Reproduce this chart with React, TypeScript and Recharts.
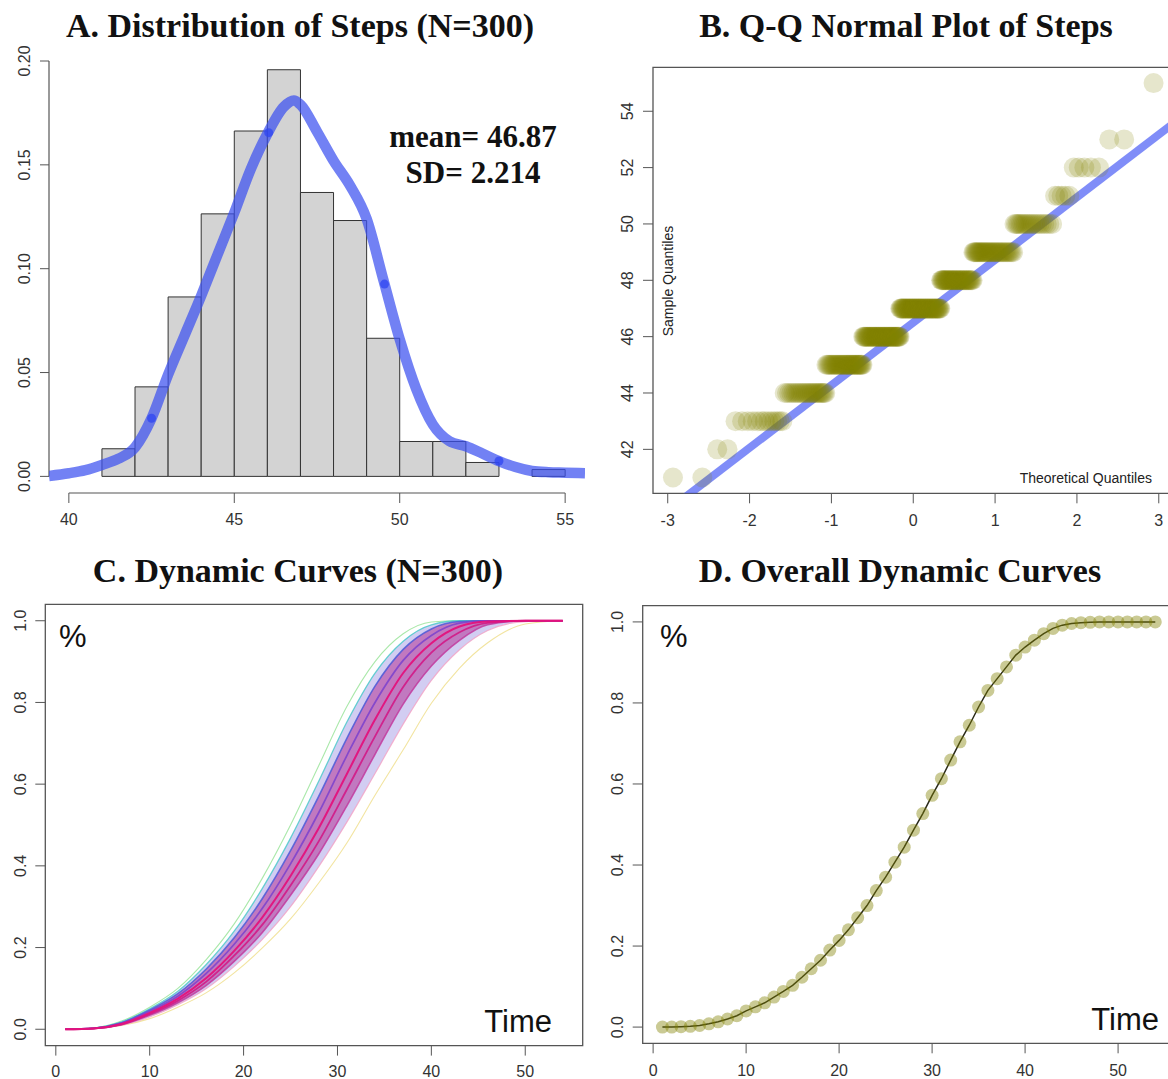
import React from "react";
import { ComposedChart, XAxis, YAxis, Line, Scatter, Area, ReferenceArea, ReferenceLine } from "recharts";

// ---------- Panel A: histogram + density ----------
const histBreaks = [41, 42, 43, 44, 45, 46, 47, 48, 49, 50, 51, 52, 53, 54, 55];
const histDensity = [0.0133, 0.0431, 0.0864, 0.1264, 0.1663, 0.1958, 0.1367, 0.1232, 0.0665, 0.0168, 0.0168, 0.0067, 0, 0.0033];
const densityX = [39.4, 40, 40.5, 41, 41.5, 42, 42.5, 43, 43.5, 44, 44.5, 45, 45.5, 46, 46.5, 46.8, 47, 47.5, 48, 48.5, 49, 49.5, 50, 50.5, 51, 51.5, 52, 52.5, 53, 53.5, 54, 54.5, 55, 55.6];
const densityY = [0.0002, 0.0015, 0.003, 0.0055, 0.0085, 0.014, 0.028, 0.049, 0.068, 0.087, 0.107, 0.127, 0.148, 0.165, 0.178, 0.181, 0.179, 0.166, 0.152, 0.14, 0.124, 0.095, 0.066, 0.042, 0.025, 0.017, 0.0145, 0.011, 0.0074, 0.0045, 0.0026, 0.002, 0.0018, 0.0015];
const densityMarkX = [42.5, 46.04, 49.54, 53.0];
const densityMarkY = [0.028, 0.1655, 0.0926, 0.0074];
const meanText = "mean= 46.87";
const sdText = "SD= 2.214";

// ---------- Panel B: sample values & counts ----------
const stepValues = [41, 42, 43, 44, 45, 46, 47, 48, 49, 50, 51, 52, 53, 54, 55];
const stepCounts = [2, 2, 13, 26, 38, 50, 59, 41, 37, 20, 5, 5, 2, 0, 1];

// ---------- Panel C: individual curves (read at these times) ----------
const curveT = [1, 4, 7, 10, 13, 16, 19, 22, 25, 28, 31, 34, 37, 40, 43, 46, 50, 54];
const curveA = [0, 0.003, 0.02, 0.054, 0.1, 0.17, 0.258, 0.37, 0.5, 0.645, 0.79, 0.9, 0.968, 0.997, 1, 1, 1, 1];
const curveB = [0, 0.003, 0.018, 0.05, 0.093, 0.158, 0.24, 0.345, 0.468, 0.607, 0.752, 0.872, 0.95, 0.99, 1, 1, 1, 1];
const curveC = [0, 0.0026, 0.016, 0.047, 0.087, 0.147, 0.224, 0.32, 0.437, 0.57, 0.712, 0.84, 0.93, 0.98, 0.998, 1, 1, 1];
const curveD = [0, 0.0022, 0.015, 0.044, 0.081, 0.136, 0.208, 0.296, 0.405, 0.53, 0.67, 0.8, 0.903, 0.964, 0.994, 1, 1, 1];
const curveE = [0, 0.002, 0.013, 0.04, 0.075, 0.125, 0.192, 0.274, 0.375, 0.492, 0.625, 0.758, 0.872, 0.945, 0.986, 0.998, 1, 1];
const curveF = [0, 0.0019, 0.012, 0.037, 0.07, 0.116, 0.18, 0.256, 0.352, 0.46, 0.587, 0.717, 0.838, 0.922, 0.972, 0.995, 1, 1];
const curveG = [0, 0.0018, 0.011, 0.034, 0.065, 0.107, 0.166, 0.237, 0.328, 0.429, 0.547, 0.673, 0.796, 0.889, 0.952, 0.99, 1, 1];
const curveH = [0, 0.0017, 0.01, 0.03, 0.06, 0.099, 0.154, 0.22, 0.3, 0.398, 0.507, 0.626, 0.747, 0.854, 0.929, 0.976, 0.998, 1];
const curveI = [0, 0.0015, 0.009, 0.026, 0.054, 0.089, 0.138, 0.199, 0.27, 0.358, 0.456, 0.573, 0.684, 0.798, 0.884, 0.946, 0.992, 1];

// ---------- Panel D: overall curve ----------
const timePoints = [1, 2, 3, 4, 5, 6, 7, 8, 9, 10, 11, 12, 13, 14, 15, 16, 17, 18, 19, 20, 21, 22, 23, 24, 25, 26, 27, 28, 29, 30, 31, 32, 33, 34, 35, 36, 37, 38, 39, 40, 41, 42, 43, 44, 45, 46, 47, 48, 49, 50, 51, 52, 53, 54];
const overallCurve = [0, 0, 0.001, 0.002, 0.004, 0.008, 0.013, 0.02, 0.028, 0.04, 0.05, 0.06, 0.074, 0.088, 0.103, 0.123, 0.144, 0.165, 0.19, 0.214, 0.24, 0.27, 0.3, 0.337, 0.37, 0.407, 0.444, 0.486, 0.527, 0.572, 0.613, 0.659, 0.704, 0.745, 0.79, 0.831, 0.86, 0.889, 0.918, 0.938, 0.955, 0.971, 0.984, 0.992, 0.996, 0.998, 0.999, 1, 1, 1, 1, 1, 1, 1];

const yTicksCD = [0, 0.2, 0.4, 0.6, 0.8, 1.0];
const xTicksCD = [0, 10, 20, 30, 40, 50];

// ---------- helpers ----------
function qnorm(p: number): number {
  const a = [-39.69683028665376, 220.9460984245205, -275.9285104469687, 138.357751867269, -30.66479806614716, 2.506628277459239];
  const b = [-54.47609879822406, 161.5858368580409, -155.6989798598866, 66.80131188771972, -13.28068155288572];
  const c = [-0.007784894002430293, -0.3223964580411365, -2.400758277161838, -2.549732539343734, 4.374664141464968, 2.938163982698783];
  const d = [0.007784695709041462, 0.3224671290700398, 2.445134137142996, 3.754408661907416];
  const pl = 0.02425;
  if (p < pl) {
    const q = Math.sqrt(-2 * Math.log(p));
    return (((((c[0] * q + c[1]) * q + c[2]) * q + c[3]) * q + c[4]) * q + c[5]) / ((((d[0] * q + d[1]) * q + d[2]) * q + d[3]) * q + 1);
  }
  if (p <= 1 - pl) {
    const q = p - 0.5;
    const r = q * q;
    return ((((((a[0] * r + a[1]) * r + a[2]) * r + a[3]) * r + a[4]) * r + a[5]) * q) / (((((b[0] * r + b[1]) * r + b[2]) * r + b[3]) * r + b[4]) * r + 1);
  }
  const q = Math.sqrt(-2 * Math.log(1 - p));
  return -(((((c[0] * q + c[1]) * q + c[2]) * q + c[3]) * q + c[4]) * q + c[5]) / ((((d[0] * q + d[1]) * q + d[2]) * q + d[3]) * q + 1);
}

const sample: number[] = [];
stepValues.forEach((v, i) => {
  for (let k = 0; k < stepCounts[i]; k++) sample.push(v);
});
const nSample = sample.length;
const qqData = sample.map((v, i) => ({ x: qnorm((i + 1 - 0.5) / nSample), y: v }));
function quantile7(arr: number[], p: number) {
  const h = (arr.length - 1) * p;
  const lo = Math.floor(h);
  const hi = Math.min(lo + 1, arr.length - 1);
  return arr[lo] + (h - lo) * (arr[hi] - arr[lo]);
}
const q1 = quantile7(sample, 0.25);
const q3 = quantile7(sample, 0.75);
const qqSlope = (q3 - q1) / (qnorm(0.75) - qnorm(0.25));
const qqInt = q1 - qqSlope * qnorm(0.25);
const xDomB: [number, number] = [-3.18, 3.18];
const yDomB: [number, number] = [40.44, 55.56];
const qqLineData = xDomB.map((x) => ({ x, y: qqInt + qqSlope * x }));

const densityData = densityX.map((x, i) => ({ x, y: densityY[i] }));
const markData = densityMarkX.map((x, i) => ({ x, y: densityMarkY[i] }));
const bins = histDensity.map((d, i) => ({ x1: histBreaks[i], x2: histBreaks[i + 1], d }));

const cCurves = [
  { vals: curveA, color: "#86DE86", op: 0.7, w: 1.1 },
  { vals: curveI, color: "#ECD878", op: 0.7, w: 1.1 },
  { vals: curveH, color: "#F2A0C4", op: 0.8, w: 1.2 },
  { vals: curveB, color: "#45C8C8", op: 0.8, w: 1.3 },
  { vals: curveC, color: "#4C5BD8", op: 0.85, w: 1.6 },
  { vals: curveG, color: "#C23A9E", op: 0.85, w: 1.6 },
  { vals: curveD, color: "#7E44CC", op: 0.9, w: 1.7 },
  { vals: curveF, color: "#D21A86", op: 0.9, w: 1.8 },
  { vals: curveE, color: "#E3127C", op: 0.95, w: 2 },
];
const cData = (vals: number[]) => curveT.map((t, i) => ({ x: t, y: vals[i] }));
const bandInner = curveT.map((t, i) => ({ x: t, band: [curveG[i], curveC[i]] }));
const bandMid = curveT.map((t, i) => ({ x: t, band: [curveH[i], curveB[i]] }));
const overallData = timePoints.map((t, i) => ({ x: t, y: overallCurve[i] }));

const SANS = "'Liberation Sans', Arial, Helvetica, sans-serif";
const SERIF = "'Liberation Serif', 'Times New Roman', serif";
const AX = "#555";
const TXT = "#333";
const TICK_FS = 16;

const xTick = (fmt: (v: number) => string) => (props: any) => {
  const { x, y, payload } = props;
  return (
    <text x={x} y={y} dy="0.71em" textAnchor="middle" fontSize={TICK_FS} fill={TXT} fontFamily={SANS}>
      {fmt(payload.value)}
    </text>
  );
};
const yTick = (fmt: (v: number) => string) => (props: any) => {
  const { x, y, payload } = props;
  return (
    <text x={x} y={y} transform={`rotate(-90 ${x} ${y})`} textAnchor="middle" fontSize={TICK_FS} fill={TXT} fontFamily={SANS}>
      {fmt(payload.value)}
    </text>
  );
};

const olive = "#808000";

export default function App() {
  return (
    <div style={{ position: "absolute", left: 0, top: 0, width: 1168, height: 1079, overflow: "hidden", background: "#fff" }}>
      {/* Panel A */}
      <div style={{ position: "absolute", left: 0, top: 0 }}>
        <ComposedChart width={600} height={540} margin={{ top: 44.4, right: 15, bottom: 7, left: 0 }}>
          <XAxis type="number" dataKey="x" domain={[39.4, 55.6]} ticks={[40, 45, 50, 55]} allowDataOverflow axisLine={false} tickLine={{ stroke: AX }} tickSize={10} tickMargin={11} height={40} tick={xTick((v) => String(v))} />
          <YAxis type="number" dataKey="y" domain={[-0.008, 0.208]} ticks={[0, 0.05, 0.1, 0.15, 0.2]} allowDataOverflow axisLine={false} tickLine={{ stroke: AX }} tickSize={9} tickMargin={10} width={49} tick={yTick((v) => v.toFixed(2))} />
          {bins.map((b, i) =>
            b.d > 0 ? (
              <ReferenceArea key={`bin${i}`} x1={b.x1} x2={b.x2} y1={0} y2={b.d} fill="#D3D3D3" fillOpacity={1} stroke="#333" strokeWidth={1} ifOverflow="visible" />
            ) : null
          )}
          <ReferenceLine segment={[{ x: 39.4, y: 0 }, { x: 39.4, y: 0.2 }]} stroke={AX} strokeWidth={1.2} ifOverflow="visible" />
          <ReferenceLine segment={[{ x: 40, y: -0.008 }, { x: 55, y: -0.008 }]} stroke={AX} strokeWidth={1.2} ifOverflow="visible" />
          <Line data={densityData} dataKey="y" type="monotone" stroke="rgb(60,80,240)" strokeOpacity={0.72} strokeWidth={10.5} dot={false} isAnimationActive={false} />
          <Scatter data={markData} dataKey="y" isAnimationActive={false} shape={(p: any) => <circle cx={p.cx} cy={p.cy} r={4.5} fill="#2F45F2" fillOpacity={0.75} />} />
        </ComposedChart>
      </div>

      {/* Panel B */}
      <div style={{ position: "absolute", left: 584, top: 0 }}>
        <ComposedChart width={600} height={540} margin={{ top: 67.3, right: 10.5, bottom: 6.7, left: 0 }}>
          <XAxis type="number" dataKey="x" domain={xDomB} ticks={[-3, -2, -1, 0, 1, 2, 3]} allowDataOverflow axisLine={false} tickLine={{ stroke: AX }} tickSize={10} tickMargin={11} height={40} tick={xTick((v) => String(v))} />
          <YAxis type="number" dataKey="y" domain={yDomB} ticks={[42, 44, 46, 48, 50, 52, 54]} allowDataOverflow axisLine={false} tickLine={{ stroke: AX }} tickSize={10} tickMargin={10} width={69} tick={yTick((v) => String(v))} />
          <ReferenceArea x1={xDomB[0]} x2={xDomB[1]} y1={yDomB[0]} y2={yDomB[1]} fill="none" fillOpacity={0} stroke={AX} strokeWidth={1.3} ifOverflow="visible" />
          <Scatter data={qqData} dataKey="y" isAnimationActive={false} shape={(p: any) => <circle cx={p.cx} cy={p.cy} r={10} fill={olive} fillOpacity={0.2} />} />
          <Line data={qqLineData} dataKey="y" type="linear" stroke="rgb(60,80,245)" strokeOpacity={0.65} strokeWidth={8} dot={false} isAnimationActive={false} />
        </ComposedChart>
      </div>

      {/* Panel C */}
      <div style={{ position: "absolute", left: 0, top: 540 }}>
        <ComposedChart width={600} height={539} margin={{ top: 64.4, right: 17.3, bottom: 0, left: 0 }}>
          <XAxis type="number" dataKey="x" domain={[-1.12, 56.12]} ticks={xTicksCD} allowDataOverflow axisLine={false} tickLine={{ stroke: AX }} tickSize={10} tickMargin={10} height={33.4} tick={xTick((v) => String(v))} />
          <YAxis type="number" dataKey="y" domain={[-0.04, 1.04]} ticks={yTicksCD} allowDataOverflow axisLine={false} tickLine={{ stroke: AX }} tickSize={10} tickMargin={9} width={45.3} tick={yTick((v) => v.toFixed(1))} />
          <ReferenceArea x1={-1.12} x2={56.12} y1={-0.04} y2={1.04} fill="none" fillOpacity={0} stroke={AX} strokeWidth={1.3} ifOverflow="visible" />
          <Area data={bandMid} dataKey="band" type="monotone" stroke="none" fill="#6A5AD4" fillOpacity={0.3} isAnimationActive={false} />
          <Area data={bandInner} dataKey="band" type="monotone" stroke="none" fill="#B0258E" fillOpacity={0.5} isAnimationActive={false} />
          {cCurves.map((c, i) => (
            <Line key={`c${i}`} data={cData(c.vals)} dataKey="y" type="monotone" stroke={c.color} strokeOpacity={c.op} strokeWidth={c.w} dot={false} isAnimationActive={false} />
          ))}
        </ComposedChart>
      </div>

      {/* Panel D */}
      <div style={{ position: "absolute", left: 584, top: 540 }}>
        <ComposedChart width={600} height={539} margin={{ top: 65.7, right: 9, bottom: 0, left: 0 }}>
          <XAxis type="number" dataKey="x" domain={[-1.12, 56.12]} ticks={xTicksCD} allowDataOverflow axisLine={false} tickLine={{ stroke: AX }} tickSize={10} tickMargin={11} height={35.7} tick={xTick((v) => String(v))} />
          <YAxis type="number" dataKey="y" domain={[-0.04, 1.04]} ticks={yTicksCD} allowDataOverflow axisLine={false} tickLine={{ stroke: AX }} tickSize={10} tickMargin={10} width={58.7} tick={yTick((v) => v.toFixed(1))} />
          <ReferenceArea x1={-1.12} x2={56.12} y1={-0.04} y2={1.04} fill="none" fillOpacity={0} stroke={AX} strokeWidth={1.3} ifOverflow="visible" />
          <Scatter data={overallData} dataKey="y" isAnimationActive={false} shape={(p: any) => <circle cx={p.cx} cy={p.cy} r={6.5} fill={olive} fillOpacity={0.42} />} />
          <Line data={overallData} dataKey="y" type="linear" stroke="#2a2a1a" strokeWidth={1.5} dot={false} isAnimationActive={false} />
        </ComposedChart>
      </div>

      {/* Titles and annotations */}
      <svg width={1168} height={1079} style={{ position: "absolute", left: 0, top: 0, pointerEvents: "none" }}>
        <g fontFamily={SERIF} fontWeight="bold" fill="#111" fontSize={34} textAnchor="middle">
          <text x={300} y={37}>A. Distribution of Steps (N=300)</text>
          <text x={906} y={37}>B. Q-Q Normal Plot of Steps</text>
          <text x={298} y={582}>C. Dynamic Curves (N=300)</text>
          <text x={900} y={582}>D. Overall Dynamic Curves</text>
        </g>
        <g fontFamily={SERIF} fontWeight="bold" fill="#111" fontSize={31} textAnchor="middle">
          <text x={473} y={147}>{meanText}</text>
          <text x={473} y={183}>{sdText}</text>
        </g>
        <g fontFamily={SANS} fill="#222" fontSize={14}>
          <text x={673} y={281} textAnchor="middle" transform="rotate(-90 673 281)">Sample Quantiles</text>
          <text x={1152} y={483} textAnchor="end">Theoretical Quantiles</text>
        </g>
        <g fontFamily={SANS} fill="#111" fontSize={31}>
          <text x={59} y={647}>%</text>
          <text x={660} y={647}>%</text>
          <text x={552} y={1032} textAnchor="end">Time</text>
          <text x={1159} y={1030} textAnchor="end">Time</text>
        </g>
      </svg>
    </div>
  );
}
